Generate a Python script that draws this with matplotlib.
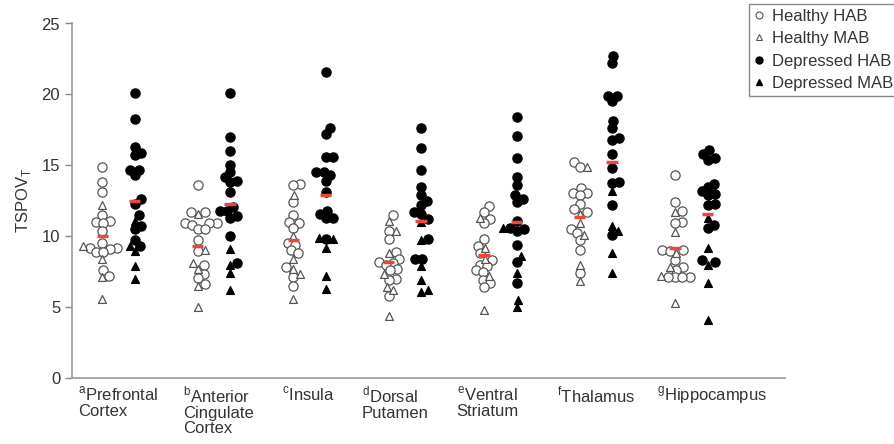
import numpy as np
import matplotlib as mpl
import matplotlib.pyplot as plt

mpl.rcParams['font.family'] = ['Liberation Sans', 'DejaVu Sans']
mpl.rcParams['axes.spines.top'] = False
mpl.rcParams['axes.spines.right'] = False

# region labels (superscript letter, name)
regions = [('a', 'Prefrontal\nCortex'), ('b', 'Anterior\nCingulate\nCortex'), ('c', 'Insula'),
           ('d', 'Dorsal\nPutamen'), ('e', 'Ventral\nStriatum'), ('f', 'Thalamus'),
           ('g', 'Hippocampus')]

# TSPO VT values, one list per region
healthy_hab = [
    [14.9, 13.8, 13.1, 11.5, 11.1, 11.0, 10.9, 10.4, 9.5, 9.2, 9.2, 9.1, 8.9, 8.9, 7.6, 7.2],
    [13.6, 11.7, 11.7, 10.9, 10.9, 10.9, 10.8, 10.5, 10.5, 9.75, 8.95, 8.0, 7.3, 7.05, 6.6],
    [13.7, 13.6, 12.4, 11.5, 11.0, 10.9, 10.6, 9.5, 9.4, 9.0, 8.8, 7.8, 7.1, 6.5],
    [11.5, 10.4, 9.8, 8.9, 8.4, 8.2, 8.1, 8.0, 7.7, 7.6, 7.0, 6.9, 5.8],
    [12.1, 11.7, 11.2, 10.9, 9.8, 9.3, 8.8, 8.3, 8.0, 7.9, 7.6, 7.5, 6.9, 6.7, 6.4],
    [15.2, 14.9, 13.4, 13.05, 13.05, 12.9, 12.25, 11.95, 11.7, 10.5, 10.2, 9.7, 9.0, 7.4],
    [14.3, 12.4, 11.8, 11.0, 10.9, 9.0, 9.0, 8.95, 8.3, 7.85, 7.6, 7.1, 7.1, 7.1, 7.1],
]
healthy_mab = [
    [12.2, 9.3, 8.4, 7.1, 5.6],
    [11.6, 9.0, 8.1, 7.7, 6.5, 5.0],
    [12.9, 10.0, 8.4, 7.7, 7.3, 5.6],
    [11.1, 10.4, 8.8, 7.3, 6.4, 6.2, 4.4],
    [11.3, 9.2, 8.4, 7.2, 4.8],
    [14.9, 11.6, 10.9, 10.1, 8.0, 6.85],
    [11.7, 10.3, 8.8, 7.8, 7.2, 5.3],
]
depressed_hab = [
    [20.1, 18.3, 16.3, 15.9, 15.7, 14.7, 14.7, 14.3, 12.6, 12.3, 11.5, 10.7, 10.5, 9.75, 9.3],
    [20.1, 17.0, 16.0, 15.05, 14.5, 14.15, 13.9, 13.8, 13.1, 12.05, 11.8, 11.75, 11.4, 11.3, 10.0, 8.1],
    [21.6, 17.6, 17.2, 15.6, 15.6, 14.5, 14.5, 14.3, 13.9, 13.1, 11.8, 11.6, 11.3, 11.3, 9.8],
    [17.6, 16.2, 14.7, 13.5, 12.9, 12.5, 12.2, 11.7, 11.6, 11.2, 9.8, 8.4, 8.4],
    [18.4, 17.1, 15.5, 14.2, 13.6, 12.9, 12.65, 12.4, 11.1, 10.6, 10.5, 10.4, 9.4, 8.2, 6.7],
    [22.7, 22.2, 19.9, 19.9, 19.5, 18.1, 17.6, 16.9, 16.8, 15.8, 14.8, 13.8, 13.75, 12.2, 10.1],
    [16.1, 15.8, 15.5, 15.4, 13.7, 13.5, 13.2, 13.0, 12.9, 12.3, 12.2, 10.8, 10.6, 8.3, 8.15],
]
depressed_mab = [
    [11.1, 9.3, 8.95, 7.9, 7.0],
    [9.1, 8.0, 7.4, 6.2],
    [9.85, 9.8, 9.2, 7.2, 6.3],
    [11.0, 9.7, 7.9, 6.9, 6.2, 6.1],
    [10.6, 8.6, 7.4, 5.5, 5.0],
    [13.2, 10.7, 10.4, 8.8, 7.4],
    [11.25, 9.2, 8.0, 6.7, 4.1],
]
# group means (red bars)
healthy_mean = [10.0, 9.3, 9.7, 8.2, 8.7, 11.35, 9.2]
depressed_mean = [12.5, 12.25, 12.9, 11.1, 11.0, 15.2, 11.55]

# where each region label starts, relative to the region centre (category units)
label_shift = [-0.42, -0.32, -0.29, -0.45, -0.46, -0.41, -0.36]

PX_X = 95.5   # pixels per category unit
PX_Y = 14.2   # pixels per y unit
DIAM = 7.2    # marker footprint in pixels (markers may overlap a bit)


def swarm(values):
    """simple beeswarm: returns x offsets (data units) for the values"""
    order = np.argsort(values)
    ys = np.asarray(values) * PX_Y
    placed = []
    offs = np.zeros(len(values))
    for i in order:
        y = ys[i]
        cands = [0.0]
        for (px, py) in placed:
            dy = abs(py - y)
            if dy < DIAM:
                dx = np.sqrt(DIAM ** 2 - dy ** 2)
                cands += [px + dx, px - dx]
        cands.sort(key=abs)
        for c in cands:
            if all((c - px) ** 2 + (y - py) ** 2 >= DIAM ** 2 - 1e-6 for px, py in placed):
                break
        placed.append((c, y))
        offs[i] = c
    return offs / PX_X


fig = plt.figure(figsize=(8.94, 4.44), dpi=100)
ax = fig.add_axes([72 / 894, 66 / 444, 713 / 894, 354.5 / 444])

grey = '#555555'
for i in range(len(regions)):
    for xc, hab, mab, filled, mean in [(i - 0.17, healthy_hab[i], healthy_mab[i], False, healthy_mean[i]),
                                       (i + 0.17, depressed_hab[i], depressed_mab[i], True, depressed_mean[i])]:
        vals = hab + mab
        offs = swarm(vals)
        n = len(hab)
        fc = 'black' if filled else 'white'
        ec = 'black' if filled else grey
        ax.scatter(xc + offs[:n], hab, s=44, marker='o', facecolor=fc, edgecolor=ec,
                   linewidth=0.9, zorder=3)
        ax.scatter(xc + offs[n:], mab, s=32, marker='^', facecolor=fc, edgecolor=ec,
                   linewidth=0.9, zorder=3)
        ax.plot([xc - 0.06, xc + 0.06], [mean, mean], color='#e8493c', lw=2.5,
                solid_capstyle='butt', zorder=4)

ax.set_xlim(-0.487, 6.98)
ax.set_ylim(0, 25)
ax.set_yticks([0, 5, 10, 15, 20, 25])
ax.set_xticks([])
ax.tick_params(axis='y', labelsize=12, colors='#333333', length=5, width=1, color='#888888')
for sp in ['left', 'bottom']:
    ax.spines[sp].set_color('#999999')
    ax.spines[sp].set_linewidth(1.2)
ax.set_ylabel(r'TSPOV$_\mathregular{T}$', fontsize=12, color='#333333', labelpad=6)

for i, (sup, name) in enumerate(regions):
    ax.text(i + label_shift[i], -0.45, r'$^{\mathregular{' + sup + '}}$' + name, ha='left', va='top',
            fontsize=12, color='#333333', linespacing=1.05)

# legend
h1 = plt.Line2D([], [], ls='', marker='o', ms=5, mfc='white', mec=grey, mew=0.8)
h2 = plt.Line2D([], [], ls='', marker='^', ms=5, mfc='white', mec=grey, mew=0.8)
h3 = plt.Line2D([], [], ls='', marker='o', ms=5, mfc='black', mec='black')
h4 = plt.Line2D([], [], ls='', marker='^', ms=5, mfc='black', mec='black')
leg = fig.legend([h1, h2, h3, h4], ['Healthy HAB', 'Healthy MAB', 'Depressed HAB', 'Depressed MAB'],
                 loc='upper left', bbox_to_anchor=(749 / 894, 0.992), fontsize=12,
                 handlelength=0.6, handletextpad=0.5, labelspacing=0.45, borderpad=0.3,
                 borderaxespad=0, fancybox=False, framealpha=1, edgecolor='#888888')
for t in leg.get_texts():
    t.set_color('#333333')

fig.savefig('out.png', dpi=100)
